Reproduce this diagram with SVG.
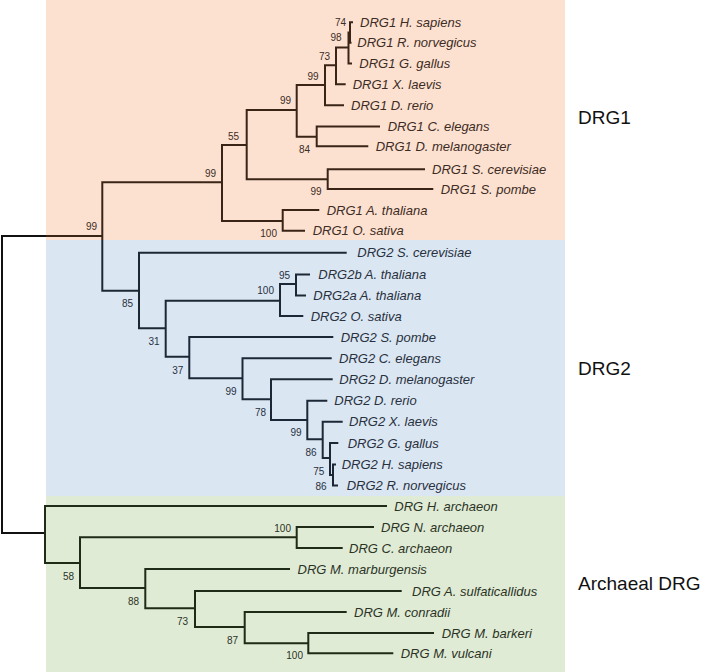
<svg xmlns="http://www.w3.org/2000/svg" width="707" height="672" viewBox="0 0 707 672">
<style>
.c0{fill:none;stroke:#111;stroke-width:2}
.c1{fill:none;stroke:#3a2416;stroke-width:2}
.c2{fill:none;stroke:#1d2836;stroke-width:2}
.c3{fill:none;stroke:#1f2a17;stroke-width:2}
.lf{font-family:"Liberation Sans",Arial,sans-serif;font-size:13px;font-style:italic}
.t1{fill:#3d2c24}
.t2{fill:#28313d}
.t3{fill:#2b3325}
.bs{font-family:"Liberation Sans",Arial,sans-serif;font-size:10px;text-anchor:end}
.grp{font-family:"Liberation Sans",Arial,sans-serif;font-size:19px;fill:#111}
</style>
<rect width="707" height="672" fill="#fff"/>
<g id="bands">
<rect x="46" y="0" width="519" height="240" fill="#fce1d1"/>
<rect x="46" y="240" width="519" height="256" fill="#dbe6f3"/>
<rect x="46" y="496" width="519" height="176" fill="#e0ebd5"/>
</g>
<g id="connectors">
<path class="c0" d="M46,236 H2 V533 H45"/>
<path class="c1" d="M46,236 H102.3"/>
<path class="c1" d="M222,182.3 H102.3 V240"/>
<path class="c1" d="M246.7,145 H222 V221 H282.7"/>
<path class="c1" d="M296.7,110 H246.7 V179.3 H327.7"/>
<path class="c1" d="M325,85 H296.7 V136.7 H316.7"/>
<path class="c1" d="M336,65.3 H325 V105.3 H344"/>
<path class="c1" d="M348.5,47.5 H336 V84.3 H345.7"/>
<path class="c1" d="M350,32.5 H348.5 V63.5 H352"/>
<path class="c1" d="M353,22.3 H350 V42.7 H351.5"/>
<path class="c1" d="M380,126.5 H316.7 V146.3 H368.3"/>
<path class="c1" d="M425,169.3 H327.7 V189 H433.3"/>
<path class="c1" d="M319.3,210 H282.7 V230.7 H305"/>
<path class="c2" d="M102.3,240 V290.7 H139"/>
<path class="c2" d="M346.7,252.7 H139 V328.3 H165.7"/>
<path class="c2" d="M280,300.7 H165.7 V356.7 H189.3"/>
<path class="c2" d="M296,284 H280 V316 H303.3"/>
<path class="c2" d="M310,274.5 H296 V295.5 H306"/>
<path class="c2" d="M333.3,337 H189.3 V378.3 H242.5"/>
<path class="c2" d="M331.7,358.3 H242.5 V399.3 H271"/>
<path class="c2" d="M332.7,379.3 H271 V420 H307.3"/>
<path class="c2" d="M327.3,400.7 H307.3 V439.3 H322.7"/>
<path class="c2" d="M342.7,421.7 H322.7 V458 H330"/>
<path class="c2" d="M338.3,443 H330 V475 H333"/>
<path class="c2" d="M336,464.5 H333 V485.5 H338"/>
<path class="c3" d="M387,506 H45 V563 H80"/>
<path class="c3" d="M296.7,537.3 H80 V588 H145.3"/>
<path class="c3" d="M374,527 H296.7 V548 H342.7"/>
<path class="c3" d="M290,569 H145.3 V608.3 H195"/>
<path class="c3" d="M401.7,591 H195 V627 H244.7"/>
<path class="c3" d="M346.7,612 H244.7 V643.3 H308.3"/>
<path class="c3" d="M434,633 H308.3 V653.3 H393.3"/>
</g>
<g id="drg1-leaves" class="lf t1">
<g id="drg1-hsap"><text x="360" y="26.9">DRG1 H. sapiens</text></g>
<g id="drg1-rnor"><text x="357.3" y="47.3">DRG1 R. norvegicus</text></g>
<g id="drg1-ggal"><text x="359.3" y="68.1">DRG1 G. gallus</text></g>
<g id="drg1-xlae"><text x="352.7" y="88.9">DRG1 X. laevis</text></g>
<g id="drg1-drer"><text x="351" y="109.9">DRG1 D. rerio</text></g>
<g id="drg1-cele"><text x="387.7" y="131.1">DRG1 C. elegans</text></g>
<g id="drg1-dmel"><text x="375.7" y="150.9">DRG1 D. melanogaster</text></g>
<g id="drg1-scer"><text x="432" y="173.9">DRG1 S. cerevisiae</text></g>
<g id="drg1-spom"><text x="440.7" y="193.6">DRG1 S. pombe</text></g>
<g id="drg1-atha"><text x="326.7" y="214.6">DRG1 A. thaliana</text></g>
<g id="drg1-osat"><text x="312.7" y="235.3">DRG1 O. sativa</text></g>
</g>
<g id="drg2-leaves" class="lf t2">
<g id="drg2-scer"><text x="357.3" y="257.3">DRG2 S. cerevisiae</text></g>
<g id="drg2b-atha"><text x="318.3" y="279.1">DRG2b A. thaliana</text></g>
<g id="drg2a-atha"><text x="313.3" y="300.1">DRG2a A. thaliana</text></g>
<g id="drg2-osat"><text x="310.7" y="320.6">DRG2 O. sativa</text></g>
<g id="drg2-spom"><text x="340.7" y="341.6">DRG2 S. pombe</text></g>
<g id="drg2-cele"><text x="339" y="362.9">DRG2 C. elegans</text></g>
<g id="drg2-dmel"><text x="339.3" y="383.9">DRG2 D. melanogaster</text></g>
<g id="drg2-drer"><text x="334.3" y="405.3">DRG2 D. rerio</text></g>
<g id="drg2-xlae"><text x="349" y="426.3">DRG2 X. laevis</text></g>
<g id="drg2-ggal"><text x="347.7" y="447.6">DRG2 G. gallus</text></g>
<g id="drg2-hsap"><text x="341.7" y="469.1">DRG2 H. sapiens</text></g>
<g id="drg2-rnor"><text x="346.7" y="490.1">DRG2 R. norvegicus</text></g>
</g>
<g id="arch-leaves" class="lf t3">
<g id="arch-harc"><text x="394.3" y="510.6">DRG H. archaeon</text></g>
<g id="arch-narc"><text x="381" y="531.6">DRG N. archaeon</text></g>
<g id="arch-carc"><text x="349" y="552.6">DRG C. archaeon</text></g>
<g id="arch-mmar"><text x="297.5" y="573.6">DRG M. marburgensis</text></g>
<g id="arch-asul"><text x="412" y="595.6">DRG A. sulfaticallidus</text></g>
<g id="arch-mcon"><text x="354" y="616.6">DRG M. conradii</text></g>
<g id="arch-mbar"><text x="441.7" y="637.6">DRG M. barkeri</text></g>
<g id="arch-mvul"><text x="400.7" y="657.9">DRG M. vulcani</text></g>
</g>
<g id="drg1-support" class="bs t1">
<g id="n1-74"><text x="346" y="25.6">74</text></g>
<g id="n1-98"><text x="341.7" y="41.3">98</text></g>
<g id="n1-73"><text x="330" y="60.3">73</text></g>
<g id="n1-99d"><text x="318.7" y="79.6">99</text></g>
<g id="n1-99c"><text x="291" y="104.3">99</text></g>
<g id="n1-55"><text x="239" y="139.6">55</text></g>
<g id="n1-84"><text x="310" y="152.9">84</text></g>
<g id="n1-99b"><text x="216" y="176.6">99</text></g>
<g id="n1-99s"><text x="321.7" y="195.3">99</text></g>
<g id="n1-100"><text x="277" y="237.1">100</text></g>
<g id="n0-99"><text x="97" y="230.3">99</text></g>
</g>
<g id="drg2-support" class="bs t2">
<g id="n2-85"><text x="133" y="306.9">85</text></g>
<g id="n2-31"><text x="159.5" y="344.6">31</text></g>
<g id="n2-100"><text x="274" y="294.3">100</text></g>
<g id="n2-95"><text x="290" y="278.6">95</text></g>
<g id="n2-37"><text x="183.3" y="373.6">37</text></g>
<g id="n2-99a"><text x="236.5" y="394.6">99</text></g>
<g id="n2-78"><text x="266" y="415.9">78</text></g>
<g id="n2-99b"><text x="301.7" y="436.3">99</text></g>
<g id="n2-86a"><text x="316.7" y="455.9">86</text></g>
<g id="n2-75"><text x="324.3" y="474.6">75</text></g>
<g id="n2-86b"><text x="326.7" y="490.1">86</text></g>
</g>
<g id="arch-support" class="bs t3">
<g id="n3-100a"><text x="291" y="531.6">100</text></g>
<g id="n3-58"><text x="74" y="579.6">58</text></g>
<g id="n3-88"><text x="139" y="605.3">88</text></g>
<g id="n3-73"><text x="188" y="625.3">73</text></g>
<g id="n3-87"><text x="238" y="643.6">87</text></g>
<g id="n3-100b"><text x="303" y="659.3">100</text></g>
</g>
<g id="group-labels" class="grp">
<g id="lbl-drg1"><text x="578" y="124">DRG1</text></g>
<g id="lbl-drg2"><text x="578" y="375">DRG2</text></g>
<g id="lbl-arch"><text x="578" y="590">Archaeal DRG</text></g>
</g>
</svg>
